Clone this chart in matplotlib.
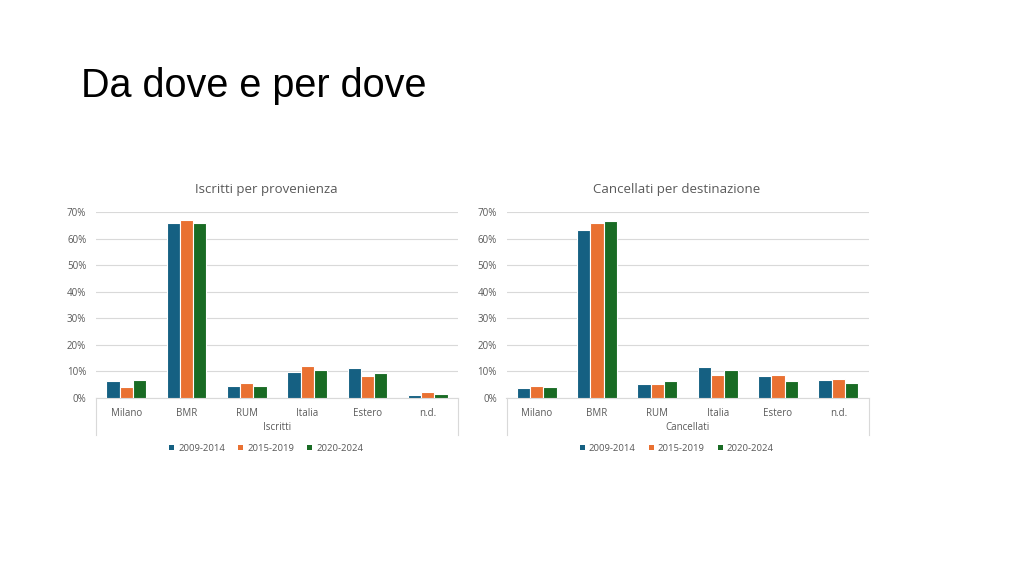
import matplotlib
matplotlib.use('Agg')
import matplotlib.pyplot as plt
import numpy as np
from matplotlib.lines import Line2D
from matplotlib.patches import Patch

categorie = ['Milano', 'BMR', 'RUM', 'Italia', 'Estero', 'n.d.']
periodi = ['2009-2014', '2015-2019', '2020-2024']
colori = ['#156082', '#E97132', '#196B24']

# quote in percentuale
iscritti_0914 = [6.4, 65.7, 4.7, 9.8, 11.2, 1.3]
iscritti_1519 = [4.3, 66.9, 5.5, 12.1, 8.2, 2.3]
iscritti_2024 = [6.9, 66.0, 4.7, 10.7, 9.4, 1.6]

cancellati_0914 = [3.7, 63.2, 5.3, 11.6, 8.3, 6.8]
cancellati_1519 = [4.7, 65.7, 5.3, 8.6, 8.6, 7.1]
cancellati_2024 = [4.3, 66.6, 6.5, 10.5, 6.3, 5.5]

grigio = '#595959'
font_grafico = 'Open Sans'


def disegnaGrafico(ax, serie, titolo, etichetta):
    x = np.arange(len(categorie))
    w = 0.22
    for i, valori in enumerate(serie):
        ax.bar(x + (i - 1) * w, np.array(valori) / 100, width=w, color=colori[i],
               edgecolor='white', linewidth=0.8, zorder=3)
    ax.set_xlim(-0.5, len(categorie) - 0.5)
    ax.set_ylim(0, 0.7)
    ax.set_yticks(np.arange(0, 0.71, 0.1))
    ax.set_yticklabels([f'{int(round(v * 100))}%' for v in np.arange(0, 0.71, 0.1)],
                       fontsize=7, color=grigio, family=font_grafico)
    ax.set_xticks(x)
    ax.set_xticklabels(categorie, fontsize=7, color=grigio, family=font_grafico)
    ax.tick_params(length=0, pad=7)
    ax.tick_params(axis='y', pad=7)
    ax.grid(axis='y', color='#D9D9D9', linewidth=0.8, zorder=0)
    for s in ['top', 'right', 'left']:
        ax.spines[s].set_visible(False)
    ax.spines['bottom'].set_color('#D9D9D9')
    ax.spines['bottom'].set_linewidth(0.8)
    ax.set_title(titolo, fontsize=9.5, color=grigio, family=font_grafico, pad=14, x=0.47)
    # riquadro etichetta gerarchica
    for xx in [0, 1]:
        ax.add_line(Line2D([xx, xx], [0, -0.2], transform=ax.transAxes,
                           color='#D9D9D9', linewidth=0.8, clip_on=False))
    ax.text(0.5, -0.16, etichetta, transform=ax.transAxes, ha='center', va='center',
            fontsize=7, color=grigio, family=font_grafico)
    maniglie = [Patch(facecolor=c, edgecolor='none') for c in colori]
    ax.legend(maniglie, periodi, loc='center', bbox_to_anchor=(0.47, -0.27),
              ncol=3, frameon=False, handlelength=0.55, handleheight=0.55,
              handletextpad=0.4, columnspacing=1.4, labelcolor=grigio,
              prop={'family': font_grafico, 'size': 6.8})


fig = plt.figure(figsize=(10.24, 5.76), dpi=100)
fig.patch.set_facecolor('white')

fig.text(81 / 1024, 1 - 86 / 576, 'Da dove e per dove', fontsize=28.5,
         family='Liberation Sans', color='black', ha='left', va='center')

ax1 = fig.add_axes([96 / 1024, 1 - 398 / 576, 362 / 1024, 186 / 576])
ax2 = fig.add_axes([506.5 / 1024, 1 - 398 / 576, 362 / 1024, 186 / 576])

disegnaGrafico(ax1, [iscritti_0914, iscritti_1519, iscritti_2024],
               'Iscritti per provenienza', 'Iscritti')
disegnaGrafico(ax2, [cancellati_0914, cancellati_1519, cancellati_2024],
               'Cancellati per destinazione', 'Cancellati')

fig.savefig('out.png', dpi=100)
